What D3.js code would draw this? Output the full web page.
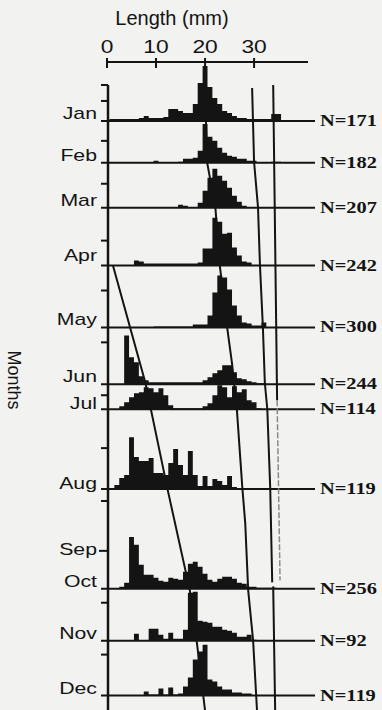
<!DOCTYPE html>
<html>
<head>
<meta charset="utf-8">
<script src="https://cdn.jsdelivr.net/npm/d3@7"></script>
<style>
  body { margin: 0; background: #f2f2f0; }
  text { fill: #141414; }
</style>
</head>
<body>
<svg id="chart" width="382" height="710"></svg>
<script>
// panels top to bottom (Sep and Oct are pooled in one panel)
var panelNames = ["Jan", "Feb", "Mar", "Apr", "May", "Jun", "Jul", "Aug", "Sep-Oct", "Nov", "Dec"];
var sampleN = [171, 182, 207, 242, 300, 244, 114, 119, 256, 92, 119];
// y extent of each panel, frequency units
var panelMax = [18, 21, 22.5, 29, 31, 28.5, 12.5, 40, 50, 26, 27.5];
var panelTicks = [[10, 18], [11], [12], [12.5], [18.5], [21], [7], [20.5], [19, 44], [19], [20.5]];

var monthLabels = ["Jan", "Feb", "Mar", "Apr", "May", "Jun", "Jul", "Aug", "Sep", "Oct", "Nov", "Dec"];
var labelPanel = [0, 1, 2, 3, 4, 5, 6, 7, 8, 8, 9, 10];
var labelLift = [1, 1, 1, 2.5, 1, 1, 0, 0, 17, 1, 1, 1];

var lengthTicks = [0, 10, 20, 30];

// frequency per 1 mm length class, class 0 first
var fJan = [0,1,1,1,1,1,1,1.5,2.5,1.5,1.5,1.5,2,6,6,5,4,4,8.5,19,27.5,17,11.5,8.5,5,4,2.5,1.5,1.5,1,1,1,1,1,3.5,3.5];
var fFeb = [0,0,0,0,0,0,0,0,0,0,1,0,0,0,0,0.5,2,2,2.5,6,19.5,13,11,7.5,5,3.5,3,2,2,1,1,0,0,0,0.5,0.5];
var fMar = [0,0,0,0,0,0,0,0,0,0,0,0,0,0,0,1.5,1,0,0,2.5,8.5,15,19.5,16,13.5,10,6,3,1];
var fApr = [0,0,0,0,0,0,2.5,2,1,1,1,1,1,1,1,1,1,1,1,1.5,8.5,8.5,24,22,16,16.5,9,5,2,1.5];
var fMay = [0,0,0,0,0,0,0,0,0,0,0.5,0.5,0.5,0.5,0.5,0.5,0.5,0.5,1.5,1.5,1.5,6,17.5,26,25,19,11,6,2.5,2,1,1,2.5];
var fJun = [0,0,0,0,24.5,13.5,11,4,2,1,1,1,1,1,1,1,1,1,1,1,2,3.5,5.5,7,9.5,9.5,6,3,2.5,1.5,1,0.5,0.5];
var fJul = [0,0,0,1.5,3.5,6,8,8.5,11,10.5,8.5,10.5,7,2,0.5,0.5,0.5,0.5,0.5,0.5,1.5,3,7,12,11,6,11.5,8.5,10,4.5,3.5,0.5];
var fAug = [0,0,2,5.5,7,26,16,14,14,15.5,8,8,7,13,20,12,7,19,7,1.5,6.5,1.5,5,4,2,6.5,1];
var fSepOct = [0,0,0,1,3,26,22,12,7,7,5.5,4,3.5,5.5,5,4.5,8.5,12.5,13.5,11,7.5,4.5,3.5,5,6,6,5,3,2.5,1,1,0.5,0.5,0.5,0.5];
var fNov = [0,0,0,0,0,0,3.5,0,0,6,6,3,1,4,1,1,5.5,24,24.5,10,9.5,9,7,7,5.5,5,4,2,2,3,0.5];
var fDec = [0,0,0,0,0,0,0,0,2,0.5,0.5,3.5,0.5,4,0.5,1,4.5,9,18,22,25.5,8,7,4.5,3,3,1.5,1.5,1,1];
var freqs = [fJan, fFeb, fMar, fApr, fMay, fJun, fJul, fAug, fSepOct, fNov, fDec];

// cohort lines: [length mm, depth in stacked frequency units from top]
var cohort0 = [[1.2,90.3],[7.8,149],[12.4,203.2],[16.9,253.3],[18.4,280.9],[20,313.5]];
var cohort1 = [[20,0],[20.4,38.6],[22.1,61.2],[23,90.3],[24.5,121.4],[25.5,139.5],[26.5,163],[27.6,201.7],[28.2,219.7],[28.8,253.3],[29.8,278.4],[30.6,313.5]];
var cohort2 = [[29.6,1.5],[30,38.6],[30.8,61.2],[31.2,90.3],[31.8,121.4],[32.2,149.5],[32.7,162.5],[33.3,202.7],[33.7,249.3]];
var refLine = [[33.9,0],[34.7,158]];
var refLineFaint = [[34.7,158],[35.3,248.3]];
var refLineLate = [[33.9,251.3],[34.3,313.5]];

var ink = "#141414";
var sansFont = "'Liberation Sans', Arial, sans-serif";
var serifFont = "'Liberation Serif', 'Times New Roman', serif";

var svg = d3.select("#chart");

var x = d3.scaleLinear().domain([0, 41]).range([107, 308]);
var totalUnits = d3.sum(panelMax);
var depth = d3.scaleLinear().domain([0, totalUnits]).range([85, 695.5]);
var unitPx = depth(1) - depth(0);
var baseDepth = d3.cumsum(panelMax);
function yBase(i) { return depth(baseDepth[i]); }

// top length axis
svg.append("text")
    .attr("x", 172).attr("y", 25)
    .attr("text-anchor", "middle")
    .style("font", "20px " + sansFont)
    .text("Length (mm)");

svg.append("line")
    .attr("x1", x(0)).attr("x2", x(41))
    .attr("y1", 62).attr("y2", 62)
    .attr("stroke", ink).attr("stroke-width", 2);

svg.selectAll(".xtick")
    .data(lengthTicks)
    .enter().append("line")
    .attr("class", "xtick")
    .attr("x1", function(d) { return x(d); })
    .attr("x2", function(d) { return x(d); })
    .attr("y1", 58).attr("y2", 68)
    .attr("stroke", ink).attr("stroke-width", 2);

svg.selectAll(".xlab")
    .data(lengthTicks)
    .enter().append("text")
    .attr("class", "xlab")
    .attr("transform", function(d) { return "translate(" + x(d) + ",53) scale(1.2,1)"; })
    .attr("text-anchor", "middle")
    .style("font", "19px " + sansFont)
    .text(function(d) { return d; });

// left frequency axis
svg.append("line")
    .attr("x1", 108).attr("x2", 108)
    .attr("y1", depth(0)).attr("y2", 710)
    .attr("stroke", ink).attr("stroke-width", 2.5);

var panels = svg.selectAll(".panel")
    .data(panelNames)
    .enter().append("g")
    .attr("class", "panel");

// histograms as step areas
var area = d3.area()
    .curve(d3.curveStepAfter)
    .x(function(d) { return x(d[0]); })
    .y0(function(d) { return 0; })
    .y1(function(d) { return -d[1] * unitPx; });

panels.append("path")
    .attr("transform", function(d, i) { return "translate(0," + yBase(i) + ")"; })
    .attr("d", function(d, i) {
      var pts = freqs[i].map(function(v, j) { return [j - 0.5, v]; });
      pts.push([freqs[i].length - 0.5, 0]);
      return area(pts);
    })
    .attr("fill", ink);

// baselines
panels.append("line")
    .attr("x1", 101).attr("x2", 315)
    .attr("y1", function(d, i) { return yBase(i); })
    .attr("y2", function(d, i) { return yBase(i); })
    .attr("stroke", ink).attr("stroke-width", 2);

// y ticks
panels.each(function(d, i) {
  d3.select(this).selectAll(".ytick")
      .data(panelTicks[i])
      .enter().append("line")
      .attr("class", "ytick")
      .attr("x1", function(t) { return (i == 8 && t == 19) ? 99 : 101; })
      .attr("x2", 108)
      .attr("y1", function(t) { return yBase(i) - t * unitPx; })
      .attr("y2", function(t) { return yBase(i) - t * unitPx; })
      .attr("stroke", ink).attr("stroke-width", 2);
});

// sample sizes
panels.append("text")
    .attr("transform", function(d, i) { return "translate(320," + (yBase(i) + 5) + ") scale(1.2,1)"; })
    .style("font", "bold 17px " + serifFont)
    .text(function(d, i) { return "N=" + sampleN[i]; });

// month labels
svg.selectAll(".month")
    .data(monthLabels)
    .enter().append("text")
    .attr("class", "month")
    .attr("transform", function(d, i) {
      return "translate(97," + (yBase(labelPanel[i]) - labelLift[i] * unitPx) + ") scale(1.25,1)";
    })
    .attr("text-anchor", "end")
    .style("font", "17px " + sansFont)
    .text(function(d) { return d; });

svg.append("text")
    .attr("transform", "translate(8,380) rotate(90)")
    .attr("text-anchor", "middle")
    .style("font", "18px " + sansFont)
    .text("Months");

// cohort progression lines
var line = d3.line()
    .x(function(d) { return x(d[0]); })
    .y(function(d) { return depth(d[1]); });

[cohort0, cohort1, cohort2, refLine, refLineLate].forEach(function(c) {
  svg.append("path")
      .attr("d", line(c))
      .attr("fill", "none")
      .attr("stroke", ink)
      .attr("stroke-width", 2);
});

svg.append("path")
    .attr("d", line(refLineFaint))
    .attr("fill", "none")
    .attr("stroke", "#8a8a8a")
    .attr("stroke-width", 1.5)
    .attr("stroke-dasharray", "6,2");
</script>
</body>
</html>
